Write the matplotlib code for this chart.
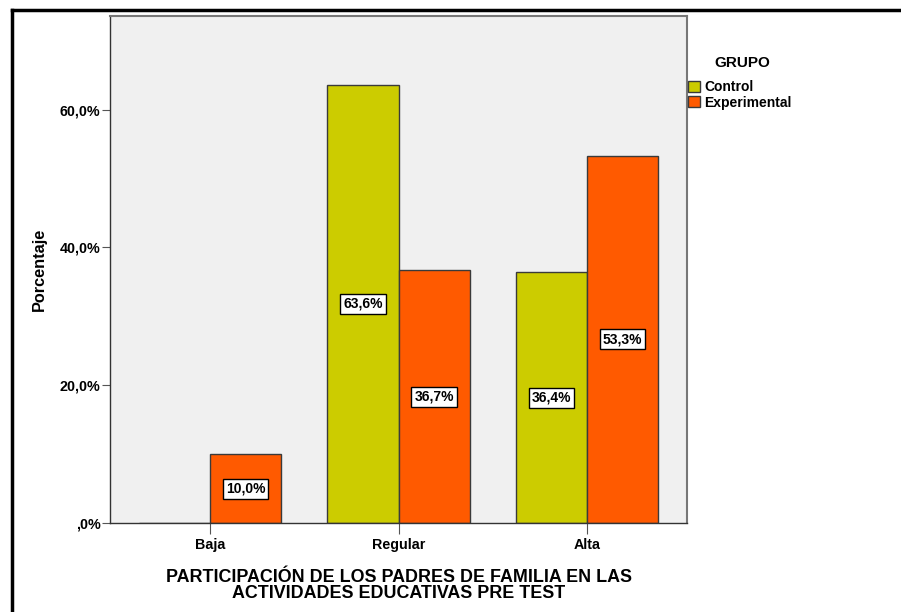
import matplotlib
matplotlib.use("Agg")
import matplotlib.pyplot as plt
import numpy as np
from matplotlib.lines import Line2D
from matplotlib.patches import Patch

# datos
niveles = ["Baja", "Regular", "Alta"]
control = [0.0, 63.6, 36.4]
experimental = [10.0, 36.7, 53.3]
grupos = ["Control", "Experimental"]
yticks = [0, 20, 40, 60]
ytick_labels = [",0%", "20,0%", "40,0%", "60,0%"]

plt.rcParams['font.family'] = ['Liberation Sans', 'DejaVu Sans']

col_control = '#CCCC00'
col_exp = '#FF5A00'
edge = '#3a3a3a'

fig = plt.figure(figsize=(9.01, 6.12), dpi=100)
ax = fig.add_axes([0.1221, 0.1454, 0.6404, 0.8284])
ax.set_facecolor('#F0F0F0')

x = np.arange(len(niveles))
w = 0.377
b1 = ax.bar(x - w / 2, control, w, color=col_control, edgecolor=edge, linewidth=1)
b2 = ax.bar(x + w / 2, experimental, w, color=col_exp, edgecolor=edge, linewidth=1)

# etiquetas dentro de las barras
for bars, vals in ((b1, control), (b2, experimental)):
    for rect, v in zip(bars, vals):
        if v <= 0:
            continue
        ax.text(rect.get_x() + rect.get_width() / 2, v / 2, f"{v:.1f}%".replace('.', ','),
                ha='center', va='center', fontsize=10, fontweight='bold',
                bbox=dict(facecolor='white', edgecolor='black', linewidth=1, boxstyle='square,pad=0.22'))

ax.set_xlim(-0.53, 2.53)
ax.set_ylim(0, 73.6)
ax.set_yticks(yticks)
ax.set_yticklabels(ytick_labels, fontsize=10.3, fontweight='bold')
ax.set_xticks(x)
ax.set_xticklabels(niveles, fontsize=10.3, fontweight='bold')
ax.tick_params(axis='y', length=6, color='#555555', pad=1)
ax.tick_params(axis='x', length=8, color='#555555', pad=3)

for s in ax.spines.values():
    s.set_color('#333333')
    s.set_linewidth(1)
ax.spines['top'].set_color('#777777')
ax.spines['top'].set_linewidth(1.5)
ax.spines['right'].set_color('#777777')
ax.spines['right'].set_linewidth(1.5)

ax.set_ylabel("Porcentaje", fontsize=11.7, fontweight='bold', labelpad=9)
ax.set_xlabel("PARTICIPACIÓN DE LOS PADRES DE FAMILIA EN LAS\nACTIVIDADES EDUCATIVAS PRE TEST",
              fontsize=12.9, fontweight='bold', linespacing=0.92, labelpad=12)

# leyenda
fig.text(742 / 901, 1 - 63 / 612, "GRUPO", ha='center', va='center', fontsize=11, fontweight='bold')
handles = [Patch(facecolor=col_control, edgecolor=edge), Patch(facecolor=col_exp, edgecolor=edge)]
leg = fig.legend(handles, grupos, loc='upper left', bbox_to_anchor=(0.764, 1 - 80 / 612),
                 frameon=False, handlelength=0.85, handleheight=0.85,
                 handletextpad=0.3, labelspacing=0.12, borderaxespad=0, borderpad=0,
                 prop={'weight': 'bold', 'size': 10})

# marco exterior
fig.add_artist(Line2D([12 / 901, 12 / 901], [0, 1 - 10 / 612], color='black', linewidth=2.5))
fig.add_artist(Line2D([12 / 901, 1], [1 - 10 / 612, 1 - 10 / 612], color='black', linewidth=2.5))

fig.savefig("out.png", dpi=100)
